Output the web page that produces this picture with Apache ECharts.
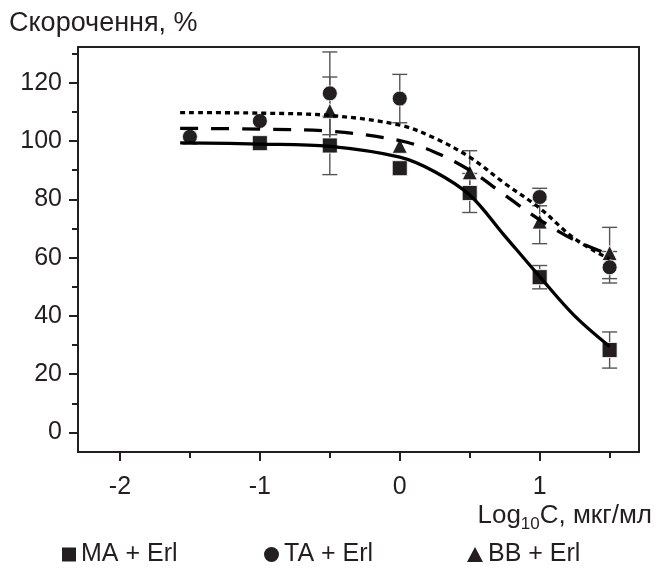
<!DOCTYPE html>
<html>
<head>
<meta charset="utf-8">
<script src="https://cdn.jsdelivr.net/npm/echarts@6/dist/echarts.min.js"></script>
<style>
html, body { margin: 0; padding: 0; background: #fff; }
#chart { width: 656px; height: 574px; }
</style>
</head>
<body>
<div id="chart"></div>
<script type="text/javascript">
// measured points: [log10 C, shortening %, error]
var maPoints = [[-1, 99.3, 0], [-0.5, 98.5, 10.0], [0, 90.7, 0], [0.5, 82.2, 6.7], [1, 53.3, 4.0], [1.5, 28.3, 6.2]];
var taPoints = [[-1.5, 101.5, 2.5], [-1, 106.9, 0], [-0.5, 116.4, 14.2], [0, 114.6, 8.3], [1, 80.8, 3.0], [1.5, 56.7, 5.4]];
var bbPoints = [[-0.5, 110.4, 11.6], [0, 98.4, 0], [0.5, 89.3, 7.4], [1, 72.4, 7.6], [1.5, 61.6, 8.8]];

// fitted curves
var maCurve = [[-1.57, 99.4], [-1, 99.0], [-0.5, 98.2], [0, 94.5], [0.25, 89.5], [0.5, 81.5], [0.75, 67.5], [1, 53.5], [1.25, 40.0], [1.5, 29.5]];
var bbCurve = [[-1.57, 104.4], [-1, 104.1], [-0.5, 103.4], [0, 100.2], [0.25, 96.2], [0.5, 90.0], [0.75, 81.5], [1, 73.0], [1.25, 66.0], [1.5, 61.0]];
var taCurve = [[-1.57, 109.8], [-1, 109.6], [-0.5, 108.8], [0, 105.5], [0.25, 101.0], [0.5, 94.5], [0.75, 85.5], [1, 77.0], [1.25, 66.5], [1.5, 59.5]];

var xLabels = [-2, -1, 0, 1];
var xMinor = [-1.5, -0.5, 0.5, 1.5];
var yLabels = [0, 20, 40, 60, 80, 100, 120];
var yMinor = [10, 30, 50, 70, 90, 110, 130];

var ink = '#231f20';
var font = "'Liberation Sans', Arial, sans-serif";

var errBars = function(name, data) {
    return {
        name: name,
        type: 'custom',
        z: 2,
        data: data,
        itemStyle: { color: ink },
        encode: { x: 0, y: 1 },
        renderItem: function(params, api) {
            var x = api.value(0), y = api.value(1), e = api.value(2);
            if (!e) return null;
            var top = api.coord([x, y + e]);
            var bot = api.coord([x, y - e]);
            var w = 7.5;
            var st = { stroke: '#555', lineWidth: 1.4 };
            return {
                type: 'group',
                children: [
                    { type: 'line', shape: { x1: top[0], y1: top[1], x2: bot[0], y2: bot[1] }, style: st },
                    { type: 'line', shape: { x1: top[0] - w, y1: top[1], x2: top[0] + w, y2: top[1] }, style: st },
                    { type: 'line', shape: { x1: bot[0] - w, y1: bot[1], x2: bot[0] + w, y2: bot[1] }, style: st }
                ]
            };
        }
    };
};

var marks = function(name, symbol, data, z) {
    return {
        name: name,
        type: 'scatter',
        symbol: symbol,
        symbolSize: 15,
        z: z,
        data: data,
        itemStyle: { color: ink, borderColor: '#fff', borderWidth: 0.8, opacity: 1 }
    };
};

var curve = function(data, type) {
    return {
        type: 'line',
        data: data,
        smooth: 0.35,
        showSymbol: false,
        silent: true,
        z: 6,
        lineStyle: { color: '#000', width: 3.3, type: type, cap: 'butt' }
    };
};

var legendAt = function(name, icon, left, w, h) {
    return {
        data: [{ name: name, icon: icon }],
        left: left,
        top: 542,
        padding: 0,
        itemWidth: w,
        itemHeight: h,
        itemStyle: { color: ink, borderWidth: 0 },
        textStyle: { fontSize: 25, color: ink, fontFamily: font },
        selectedMode: false
    };
};

var option = {
    animation: false,
    title: {
        text: 'Скорочення, %',
        left: 9,
        top: 10,
        padding: 0,
        textStyle: { fontSize: 27, fontWeight: 'normal', color: ink, fontFamily: font }
    },
    legend: [
        legendAt('MA + Erl', 'rect', 62, 14, 14),
        legendAt('TA + Erl', 'circle', 264, 15, 15),
        legendAt('BB + Erl', 'triangle', 467, 16, 15)
    ],
    grid: {
        left: 78, right: 17, top: 47, bottom: 122,
        show: true, borderColor: ink, borderWidth: 2
    },
    xAxis: [{
        type: 'value', min: -2.3, max: 1.71, position: 'bottom',
        splitLine: { show: false },
        axisLine: { show: true, onZero: false, lineStyle: { color: ink, width: 2 } },
        axisTick: { show: true, customValues: xLabels, length: 9, lineStyle: { color: ink, width: 2 } },
        axisLabel: { customValues: xLabels, fontSize: 25, color: ink, fontFamily: font, margin: 23 }
    }, {
        type: 'value', min: -2.3, max: 1.71, position: 'bottom', offset: 0,
        splitLine: { show: false },
        axisLine: { show: false, onZero: false },
        axisTick: { show: true, customValues: xMinor, length: 6, lineStyle: { color: ink, width: 2 } },
        axisLabel: { show: false }
    }],
    yAxis: [{
        type: 'value', min: -6.7, max: 132.3, position: 'left',
        splitLine: { show: false },
        axisLine: { show: true, onZero: false, lineStyle: { color: ink, width: 2 } },
        axisTick: { show: true, customValues: yLabels, length: 9, lineStyle: { color: ink, width: 2 } },
        axisLabel: { customValues: yLabels, fontSize: 25, color: ink, fontFamily: font, margin: 16 }
    }, {
        type: 'value', min: -6.7, max: 132.3, position: 'left', offset: 0,
        splitLine: { show: false },
        axisLine: { show: false, onZero: false },
        axisTick: { show: true, customValues: yMinor, length: 6, lineStyle: { color: ink, width: 2 } },
        axisLabel: { show: false }
    }],
    graphic: [{
        type: 'text',
        right: 4,
        top: 503,
        style: {
            text: '{a|Log}{b|10}{a|C, мкг/мл}',
            rich: {
                a: { fontSize: 26, lineHeight: 34, fontFamily: font, fill: ink, verticalAlign: 'middle' },
                b: { fontSize: 17, lineHeight: 14, fontFamily: font, fill: ink, verticalAlign: 'bottom' }
            }
        }
    }],
    series: [
        errBars('BB + Erl', bbPoints),
        errBars('TA + Erl', taPoints),
        errBars('MA + Erl', maPoints),
        marks('BB + Erl', 'triangle', bbPoints, 3),
        marks('TA + Erl', 'circle', taPoints, 4),
        marks('MA + Erl', 'rect', maPoints, 5),
        curve(maCurve, 'solid'),
        curve(bbCurve, [18, 13]),
        curve(taCurve, [5, 4])
    ]
};

var charts = echarts.init(document.getElementById('chart'));
charts.setOption(option);
</script>
</body>
</html>
